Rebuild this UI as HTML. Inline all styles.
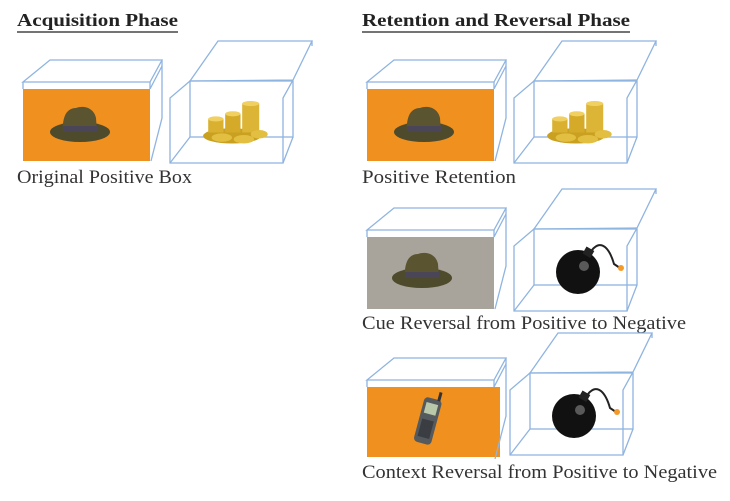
<!DOCTYPE html>
<html><head><meta charset="utf-8"><style>
html,body{margin:0;padding:0;background:#fff;}
svg{display:block}
.t{font-family:"Liberation Serif",serif;font-weight:bold;font-size:18px;fill:#222}
.l{font-family:"Liberation Serif",serif;font-size:19px;fill:#333}
.b{fill:none;stroke:#8fb4e0;stroke-width:1.3}
</style></head><body>
<svg width="730" height="501" viewBox="0 0 730 501" xmlns="http://www.w3.org/2000/svg">
<defs>
 <g id="hat">
  <ellipse cx="0" cy="8" rx="30" ry="10" fill="#4e4a2c"/>
  <path d="M-17,8 C-18,-6 -14,-16 -4,-16 C4,-19 14,-16 16,-6 L17,8 Z" fill="#5a5430"/>
  <path d="M-17,2 L17,2 L17,8 L-17,8 Z" fill="#4a4658"/>
 </g>
 <g id="coins" transform="scale(0.85)">
  <ellipse cx="0" cy="14" rx="34" ry="9" fill="#c9a020"/>
  <rect x="-28" y="-6" width="18" height="16" fill="#d9b030"/>
  <rect x="-8" y="-12" width="18" height="22" fill="#d4aa28"/>
  <rect x="12" y="-24" width="20" height="34" fill="#dcb436"/>
  <ellipse cx="22" cy="-24" rx="10" ry="3" fill="#f0d060"/>
  <ellipse cx="1" cy="-12" rx="9" ry="3" fill="#f0d060"/>
  <ellipse cx="-19" cy="-6" rx="9" ry="3" fill="#f0d060"/>
  <ellipse cx="-12" cy="16" rx="12" ry="5" fill="#e2bf40"/>
  <ellipse cx="14" cy="18" rx="12" ry="5" fill="#e2bf40"/>
  <ellipse cx="32" cy="12" rx="10" ry="5" fill="#e2bf40"/>
 </g>
 <g id="bomb">
  <circle cx="0" cy="0" r="22" fill="#111"/>
  <circle cx="6" cy="-6" r="5" fill="#777" opacity="0.7"/>
  <rect x="6" y="-24" width="9" height="8" fill="#222" transform="rotate(30 10 -20)"/>
  <path d="M14,-22 C24,-34 32,-22 36,-8 L42,-4" fill="none" stroke="#222" stroke-width="2"/>
  <circle cx="43" cy="-4" r="3" fill="#f39a2a"/>
 </g>
 <g id="closed">
  <polygon class="b" points="23,82 50,60 162,60 150,82" fill="#fff"/>
  <line class="b" x1="23" y1="82" x2="23" y2="89"/>
  <line class="b" x1="150" y1="82" x2="150" y2="89"/>
  <polyline class="b" points="162,60 162,118 151,161"/>
  <line class="b" x1="162" y1="66" x2="150" y2="89"/>
 </g>
 <g id="open">
  <polygon class="b" points="190,81 218,41 312,41 293,80"/>
  <line class="b" x1="312" y1="41" x2="312" y2="46"/>
  <rect class="b" x="190" y="81" width="103" height="56"/>
  <polyline class="b" points="190,81 170,98 170,163 283,163 283,98 293,80"/>
  <line class="b" x1="170" y1="163" x2="190" y2="137"/>
  <line class="b" x1="283" y1="163" x2="293" y2="137"/>
 </g>
</defs>

<text class="t" x="17" y="26" textLength="161" lengthAdjust="spacingAndGlyphs">Acquisition Phase</text>
<line x1="17" y1="32" x2="178" y2="32" stroke="#222" stroke-width="1.3"/>
<text class="t" x="362" y="26" textLength="268" lengthAdjust="spacingAndGlyphs">Retention and Reversal Phase</text>
<line x1="362" y1="32" x2="630" y2="32" stroke="#222" stroke-width="1.3"/>

<rect x="23" y="89" width="127" height="72" fill="#f0901e"/>
<use href="#closed"/>
<use href="#hat" x="80" y="124"/>
<use href="#open"/>
<use href="#coins" x="232" y="124"/>
<text class="l" x="17" y="183" textLength="175" lengthAdjust="spacingAndGlyphs">Original Positive Box</text>

<g transform="translate(344,0)">
 <rect x="23" y="89" width="127" height="72" fill="#f0901e"/>
 <use href="#closed"/>
 <use href="#hat" x="80" y="124"/>
 <use href="#open"/>
 <use href="#coins" x="232" y="124"/>
</g>
<text class="l" x="362" y="183" textLength="154" lengthAdjust="spacingAndGlyphs">Positive Retention</text>

<g transform="translate(344,148)">
 <rect x="23" y="89" width="127" height="72" fill="#a8a39b"/>
 <use href="#closed"/>
 <use href="#hat" x="78" y="122"/>
 <use href="#open"/>
 <use href="#bomb" x="234" y="124"/>
</g>
<text class="l" x="362" y="329" textLength="324" lengthAdjust="spacingAndGlyphs">Cue Reversal from Positive to Negative</text>

<g transform="translate(344,298)">
 <rect x="23" y="89" width="133" height="70" fill="#f0901e"/>
 <use href="#closed"/>
 <g transform="translate(84,122) rotate(15)">
  <rect x="-9" y="-22" width="18" height="46" rx="4" fill="#555a5e"/>
  <rect x="-6" y="-17" width="12" height="11" fill="#b8c8a8"/>
  <rect x="4" y="-30" width="3" height="9" fill="#333"/>
  <rect x="-6" y="0" width="12" height="18" fill="#3a3e42"/>
 </g>
</g>
<g transform="translate(340,292)">
 <use href="#open"/>
 <use href="#bomb" x="234" y="124"/>
</g>
<text class="l" x="362" y="478" textLength="355" lengthAdjust="spacingAndGlyphs">Context Reversal from Positive to Negative</text>
</svg>
</body></html>
